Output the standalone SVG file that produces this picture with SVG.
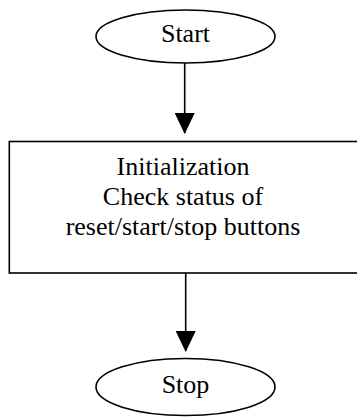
<svg xmlns="http://www.w3.org/2000/svg" width="357" height="417" viewBox="0 0 357 417">
  <style>
    .shape { fill: #ffffff; stroke: #000000; stroke-width: 1.6; }
    .edge { fill: none; stroke: #000000; stroke-width: 1.6; marker-end: url(#arrowhead); }
    .label { font-family: "Liberation Serif", "Times New Roman", serif; font-size: 26px; fill: #000000; text-anchor: middle; }
  </style>
  <defs>
    <!-- solid triangular arrowhead, tip at the end of the line -->
    <marker id="arrowhead" markerUnits="userSpaceOnUse" viewBox="0 0 21 20" markerWidth="21" markerHeight="20" refX="20" refY="10" orient="auto">
      <path d="M0,0 L21,10 L0,20 Z" fill="#000000"/>
    </marker>
  </defs>
  <rect width="357" height="417" fill="#ffffff"/>

  <g id="connectors">
    <line class="edge" x1="184.7" y1="63" x2="184.7" y2="133"/>
    <line class="edge" x1="185.7" y1="273" x2="185.7" y2="351"/>
  </g>

  <g id="start">
    <ellipse class="shape" cx="185.5" cy="36.5" rx="89.5" ry="26.5"/>
    <text class="label" x="185.5" y="42">Start</text>
  </g>

  <g id="init">
    <rect class="shape" x="9.3" y="141.5" width="352" height="131.5"/>
    <text class="label" x="183" y="175">Initialization</text>
    <text class="label" x="183" y="205">Check status of</text>
    <text class="label" x="183" y="235">reset/start/stop buttons</text>
  </g>

  <g id="stop">
    <ellipse class="shape" cx="185.5" cy="387" rx="89.5" ry="28.5"/>
    <text class="label" x="185.5" y="393">Stop</text>
  </g>
</svg>
